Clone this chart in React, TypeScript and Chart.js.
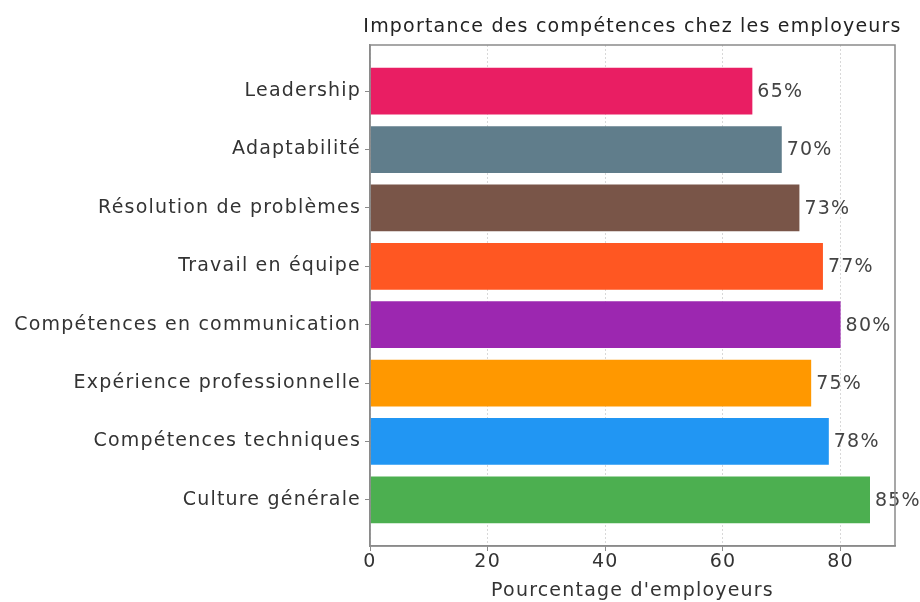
import React, { useEffect, useRef } from "react";
import { Chart, registerables } from "chart.js";

Chart.register(...registerables);

const categories = [
  "Leadership",
  "Adaptabilité",
  "Résolution de problèmes",
  "Travail en équipe",
  "Compétences en communication",
  "Expérience professionnelle",
  "Compétences techniques",
  "Culture générale",
];
const values = [65, 70, 73, 77, 80, 75, 78, 85];
const colors = [
  "#E91E63",
  "#607D8B",
  "#795548",
  "#FF5722",
  "#9C27B0",
  "#FF9800",
  "#2196F3",
  "#4CAF50",
];
const xTicks = [0, 20, 40, 60, 80];
const title = "Importance des compétences chez les employeurs";
const xTitle = "Pourcentage d'employeurs";

const FONT = "'DejaVu Sans', sans-serif";
const SIZE = 19;
const SPACING = "1.2px";

const framePlugin = {
  id: "frameAndLabels",
  beforeUpdate(chart: any) {
    chart.ctx.letterSpacing = SPACING;
  },
  beforeDraw(chart: any) {
    chart.ctx.letterSpacing = SPACING;
  },
  afterDatasetsDraw(chart: any) {
    const { ctx } = chart;
    const meta = chart.getDatasetMeta(0);
    ctx.save();
    ctx.fillStyle = "#444";
    ctx.font = `${SIZE}px ${FONT}`;
    ctx.textAlign = "left";
    ctx.textBaseline = "middle";
    meta.data.forEach((el: any, i: number) => {
      ctx.fillText(`${values[i]}%`, el.x + 5, el.y + 1);
    });
    ctx.restore();
  },
  afterDraw(chart: any) {
    const { ctx, chartArea } = chart;
    ctx.save();
    ctx.strokeStyle = "#8a8a8a";
    ctx.lineWidth = 1.5;
    ctx.strokeRect(chartArea.left, chartArea.top, chartArea.right - chartArea.left, chartArea.bottom - chartArea.top);
    ctx.fillStyle = "#222";
    ctx.font = `${SIZE}px ${FONT}`;
    ctx.textAlign = "center";
    ctx.textBaseline = "middle";
    ctx.fillText(title, (chartArea.left + chartArea.right) / 2, 27);
    ctx.restore();
  },
};

export default function App() {
  const ref = useRef<HTMLCanvasElement | null>(null);
  useEffect(() => {
    document.body.style.margin = "0";
    const c2d = ref.current!.getContext("2d") as any;
    c2d.letterSpacing = SPACING;
    const chart = new Chart(ref.current!, {
      type: "bar",
      data: {
        datasets: [
          {
            data: values.map((v, i) => ({ x: v, y: i })),
            backgroundColor: colors,
            borderWidth: 0,
            barPercentage: 0.8,
            categoryPercentage: 1,
          },
        ],
      },
      options: {
        indexAxis: "y",
        animation: false,
        responsive: false,
        layout: { padding: { top: 45, right: 25, left: 0, bottom: 0 } },
        plugins: { legend: { display: false }, tooltip: { enabled: false }, title: { display: false } },
        scales: {
          x: {
            type: "linear",
            min: 0,
            max: 89.25,
            afterBuildTicks: (scale: any) => {
              scale.ticks = xTicks.map((v) => ({ value: v }));
            },
            afterFit: (scale: any) => {
              scale.height = 56;
            },
            ticks: { color: "#333", font: { family: FONT, size: SIZE }, padding: 0 },
            grid: {
              display: true,
              color: "#d8d8d8",
              tickColor: "#8a8a8a",
              tickLength: 5,
              lineWidth: 1,
            },
            border: { display: true, color: "#8a8a8a", width: 1.5, dash: [2, 2] },
            title: {
              display: true,
              text: xTitle,
              color: "#333",
              font: { family: FONT, size: SIZE },
              padding: { top: 0, bottom: 0 },
            },
          },
          y: {
            type: "linear",
            reverse: true,
            offset: false,
            min: -0.79,
            max: 7.79,
            afterBuildTicks: (scale: any) => {
              scale.ticks = categories.map((_, i) => ({ value: i }));
            },
            afterFit: (scale: any) => {
              scale.width = 370;
            },
            ticks: {
              color: "#333",
              font: { family: FONT, size: SIZE },
              padding: 4,
              callback: (v: any) => categories[v as number] ?? "",
            },
            grid: {
              display: true,
              offset: false,
              drawOnChartArea: false,
              tickColor: "#8a8a8a",
              tickLength: 5,
            },
            border: { display: true, color: "#8a8a8a", width: 1.5 },
          },
        },
      },
      plugins: [framePlugin],
    });
    return () => chart.destroy();
  }, []);
  return (
    <div style={{ width: 920, height: 602 }}>
      <canvas ref={ref} width={920} height={602} style={{ display: "block" }} />
    </div>
  );
}
